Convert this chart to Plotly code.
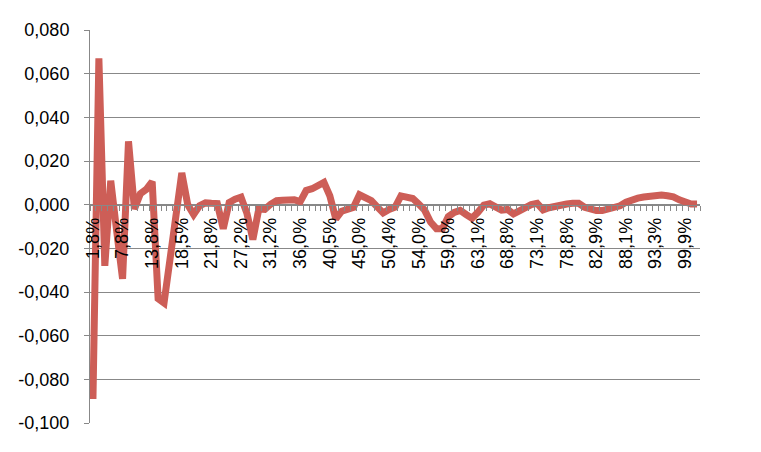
import plotly.graph_objects as go

# Category labels shown on the x axis (every 5th category of 103)
label_positions = [0, 5, 10, 15, 20, 25, 30, 35, 40, 45, 50, 55, 60, 65, 70, 75, 80, 85, 90, 95, 100]
x_labels = ["1,8%", "7,8%", "13,8%", "18,5%", "21,8%", "27,2%", "31,2%", "36,0%", "40,5%",
            "45,0%", "50,4%", "54,0%", "59,0%", "63,1%", "68,8%", "73,1%", "78,8%", "82,9%",
            "88,1%", "93,3%", "99,9%"]

# Series values, one per category
values = [
    -0.089, 0.067, -0.028, 0.011, -0.012, -0.034, 0.029, -0.002, 0.005, 0.007,
    0.0105, -0.043, -0.045, -0.025, -0.005, 0.0145, 0.0000, -0.0045, -0.0005, 0.0008,
    0.0006, 0.0005, -0.011, 0.001, 0.0025, 0.0034, -0.004, -0.016, -0.002, -0.0022,
    0.0002, 0.0018, 0.002, 0.0025, 0.0022, 0.0014, 0.0065, 0.0073, 0.0085, 0.0102,
    0.004, -0.0065, -0.003, -0.002, -0.0012, 0.0045, 0.003, 0.0018, -0.001, -0.0038,
    -0.0022, -0.0012, 0.004, 0.0038, 0.0028, 0.0003, -0.0025, -0.008, -0.011, -0.011,
    -0.0055, -0.0035, -0.0026, -0.0045, -0.0062, -0.0035, -0.0002, 0.0004, -0.0008, -0.0025,
    -0.0022, -0.0042, -0.0028, -0.0012, 0.0, 0.0006, -0.0024, -0.0014, -0.0006, 0.0,
    0.0003, 0.0006, 0.0006, -0.0012, -0.0022, -0.0027, -0.0027, -0.0022, -0.0015, -0.0005,
    0.0011, 0.0022, 0.003, 0.0035, 0.0038, 0.0046, 0.0044, 0.0041, 0.0036, 0.0022,
    0.0009, 0.0003, 0.0003,
]
categories = list(range(len(values)))

y_ticks = [-0.10, -0.08, -0.06, -0.04, -0.02, 0.0, 0.02, 0.04, 0.06, 0.08]
y_labels = ["-0,100", "-0,080", "-0,060", "-0,040", "-0,020", "0,000", "0,020", "0,040", "0,060", "0,080"]

y_min, y_max = -0.10, 0.08
grid = "#888888"
font_family = "Liberation Sans, Arial, sans-serif"

fig = go.Figure()
fig.add_trace(go.Scatter(
    x=categories, y=values, mode="lines",
    line=dict(color="#CD5E57", width=7),
    hoverinfo="skip", showlegend=False,
))

# The page body adds an 8px offset, so the figure is sized/margined to compensate
fig.update_layout(
    width=753, height=444,
    margin=dict(l=82, r=61, t=22, b=29),
    paper_bgcolor="white", plot_bgcolor="white",
    font=dict(family=font_family, size=18, color="black"),
)

fig.update_xaxes(
    range=[-0.5, len(values) - 0.5],
    anchor="free",
    position=(0 - y_min) / (y_max - y_min),
    automargin=False,
    showline=True, linecolor=grid, linewidth=1,
    showgrid=False, zeroline=False,
    tickmode="array", tickvals=label_positions, ticktext=x_labels,
    ticks="", tickangle=-90,
    tickfont=dict(size=18, family=font_family, color="black"),
    ticklabelstandoff=5,
    minor=dict(tick0=-0.5, dtick=1, ticks="outside", ticklen=5, tickcolor=grid, showgrid=False),
)

fig.update_yaxes(
    range=[y_min, y_max],
    automargin=False,
    showline=True, linecolor=grid, linewidth=1,
    showgrid=True, gridcolor=grid, gridwidth=1,
    zeroline=False,
    tickmode="array", tickvals=y_ticks, ticktext=y_labels,
    ticks="outside", ticklen=5, tickcolor=grid,
    tickfont=dict(size=18, family=font_family, color="black"),
    ticklabelstandoff=11,
)

fig.write_html("out.html")
